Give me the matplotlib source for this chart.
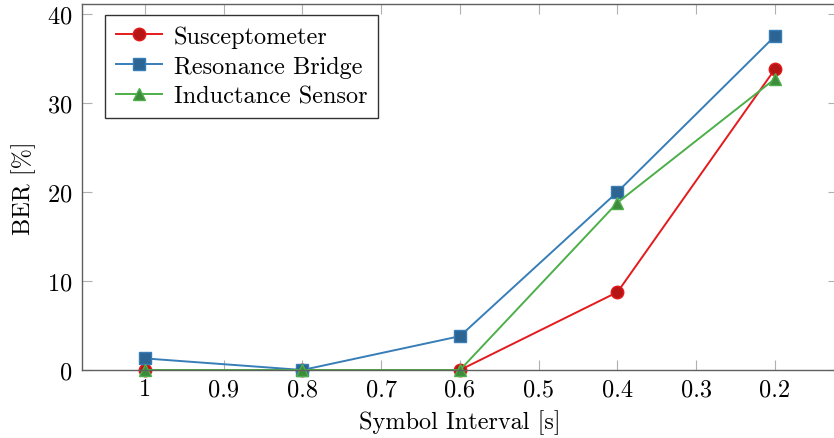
import numpy as np
import matplotlib
matplotlib.use('Agg')
from matplotlib import pyplot as plt

plt.rcParams['font.family'] = ['cmr10', 'DejaVu Serif']
plt.rcParams['axes.formatter.use_mathtext'] = True
plt.rcParams['mathtext.fontset'] = 'cm'

intervals = [1.0, 0.8, 0.6, 0.4, 0.2]
susceptometer = [0.0, 0.0, 0.0, 8.75, 33.8]
resonance_bridge = [1.3, 0.0, 3.8, 20.0, 37.5]
inductance_sensor = [0.0, 0.0, 0.0, 18.8, 32.7]

x_ticks = [1.0, 0.9, 0.8, 0.7, 0.6, 0.5, 0.4, 0.3, 0.2]
x_tick_labels = ['1', '0.9', '0.8', '0.7', '0.6', '0.5', '0.4', '0.3', '0.2']
y_ticks = [0, 10, 20, 30, 40]

RED = '#e41a1c'
BLUE = '#377eb8'
GREEN = '#4daf4a'
FS = 17.5


def darker(c, f=0.8):
    rgb = np.array(matplotlib.colors.to_rgb(c))
    return tuple(rgb * f)


fig = plt.figure(figsize=(8.34, 4.39), dpi=100)
ax = fig.add_axes([0.0983, 0.1549, 1.0048 - 0.0983, 0.9886 - 0.1549])

series = [
    ('Susceptometer', susceptometer, RED, 'o', 9),
    ('Resonance Bridge', resonance_bridge, BLUE, 's', 8.5),
    ('Inductance Sensor', inductance_sensor, GREEN, '^', 9),
]
for name, vals, col, mk, ms in series:
    ax.plot(intervals, vals, color=col, lw=1.4, marker=mk, markersize=ms,
            markerfacecolor=darker(col), markeredgecolor=col, markeredgewidth=1.0,
            label=name, clip_on=False)

ax.set_xlim(1.08, 0.12)
ax.set_ylim(0, 41.1)
ax.set_xticks(x_ticks)
ax.set_xticklabels(x_tick_labels)
ax.set_yticks(y_ticks)
ax.tick_params(direction='in', length=7, width=0.8, color='#b0b0b0',
               top=True, right=True, labelsize=FS)
ax.tick_params(axis='x', pad=6)
ax.tick_params(axis='y', pad=7)
for s in ax.spines.values():
    s.set_color('#606060')
    s.set_linewidth(1.0)

ax.set_xlabel('Symbol Interval [s]', fontsize=FS, labelpad=6)
ax.set_ylabel('BER [%]', fontsize=FS, labelpad=8)

leg = ax.legend(loc='upper left', fontsize=FS, frameon=True, fancybox=False,
                edgecolor='black', handlelength=1.9, handletextpad=0.5,
                borderpad=0.42, labelspacing=0.33,
                bbox_to_anchor=(0.031, 0.97), borderaxespad=0)
leg.get_frame().set_linewidth(1.0)

plt.savefig('out.png', dpi=100)
